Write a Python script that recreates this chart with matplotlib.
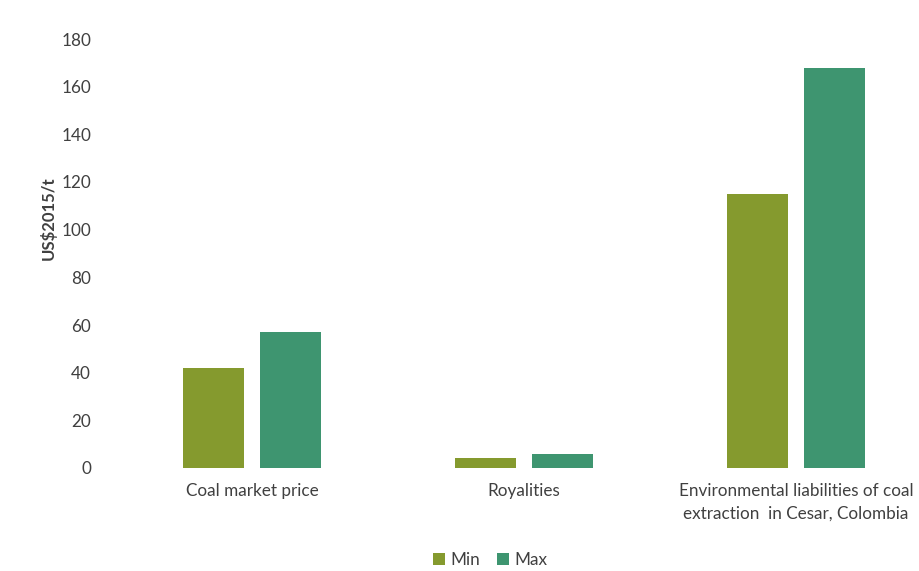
import numpy as np
import matplotlib
matplotlib.use("Agg")
import matplotlib.pyplot as plt

categories = ["Coal market price", "Royalities",
              "Environmental liabilities of coal\nextraction  in Cesar, Colombia"]
min_vals = [42, 4.2, 115]
max_vals = [57, 5.9, 168]
yticks = list(range(0, 181, 20))

plt.rcParams["font.family"] = ["Lato", "DejaVu Sans"]

fig = plt.figure(figsize=(9.2, 5.71), dpi=100)
ax = fig.add_axes([116 / 920, 1 - 468 / 571, 816 / 920, 429 / 571])

x = np.arange(len(categories))
w = 0.224
off = 0.143
ax.bar(x - off, min_vals, w, color="#859a2e", label="Min")
ax.bar(x + off, max_vals, w, color="#3e9570", label="Max")

ax.set_xlim(-0.5, 2.5)
ax.set_ylim(0, 180)
ax.set_yticks(yticks)
ax.set_xticks(x)
ax.set_xticklabels(categories, fontsize=12.3, color="#404040", linespacing=1.45)
ax.tick_params(axis="y", labelsize=12.3, labelcolor="#404040", length=0, pad=18)
ax.tick_params(axis="x", length=0, pad=11)
for s in ax.spines.values():
    s.set_visible(False)

fig.text(48 / 920, 1 - 218 / 571, "US$2015/t", rotation=90, fontsize=12,
         fontweight="bold", color="#404040", ha="center", va="center")

fig.legend(loc="center", bbox_to_anchor=(490 / 920, 1 - 560 / 571), ncol=2,
           frameon=False, fontsize=12.3, handlelength=0.7, handleheight=0.7,
           handletextpad=0.3, columnspacing=1.0, labelcolor="#404040")

fig.savefig("out.png", dpi=100)
